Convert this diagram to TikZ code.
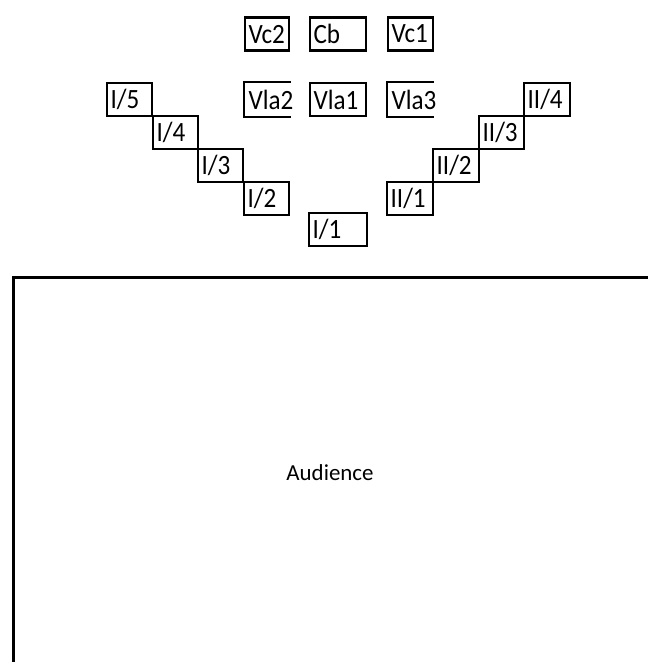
\documentclass[tikz,border=0pt]{standalone}
\usepackage{fontspec}
\setmainfont{Carlito}
\newfontfamily\seatfont[FakeStretch=0.9]{Carlito}
\begin{document}
\begin{tikzpicture}[x=1bp,y=-1bp,
  seat/.style={line width=2.2bp, minimum height=33bp, inner xsep=3.5bp, inner ysep=0pt,
    align=left, anchor=north west, font=\seatfont\fontsize{28}{30}\selectfont},
  boxed/.style={seat, draw},
  wall/.style={line width=2.8bp}]
\useasboundingbox (0,0) rectangle (648,662);
% back row
\node[boxed, text width=37bp] (vc2) at (244,16.5) {Vc2};
\node[boxed, text width=49bp] (cb) at (309,16.5) {Cb};
\node[boxed, text width=38bp] (vc1) at (387,16.5) {Vc1};
% violas
\node[seat, text width=38bp] (vla2) at (244,82) {Vla2};
\node[boxed, text width=49bp] (vla1) at (309,82) {Vla1};
\node[seat, text width=38bp] (vla3) at (387,82) {Vla3};
\draw[line width=2.2bp] (vla2.north east) -- (vla2.north west) -- (vla2.south west) -- (vla2.south east);
\draw[line width=2.2bp] (vla3.north east) -- (vla3.north west) -- (vla3.south west) -- (vla3.south east);
% first violins
\node[boxed, text width=38bp] (i5) at (106,82) {I/5};
\node[boxed, text width=38bp] (i4) at (152,115) {I/4};
\node[boxed, text width=38bp] (i3) at (197,148) {I/3};
\node[boxed, text width=38bp] (i2) at (243,181) {I/2};
\node[boxed, text width=51bp] (i1) at (308,212) {I/1};
% second violins
\node[boxed, text width=39bp] (ii1) at (386,181) {II/1};
\node[boxed, text width=39bp] (ii2) at (432,148) {II/2};
\node[boxed, text width=38bp] (ii3) at (478,115) {II/3};
\node[boxed, text width=39bp] (ii4) at (523,82) {II/4};
% audience
\coordinate (abl) at (13.5,662);
\coordinate (atl) at (13.5,277.5);
\coordinate (atr) at (648,277.5);
\draw[wall] (abl) -- (atl) -- (atr);
\node[font=\fontsize{23}{25}\selectfont] (aud) at (330,473) {Audience};
\end{tikzpicture}
\end{document}
